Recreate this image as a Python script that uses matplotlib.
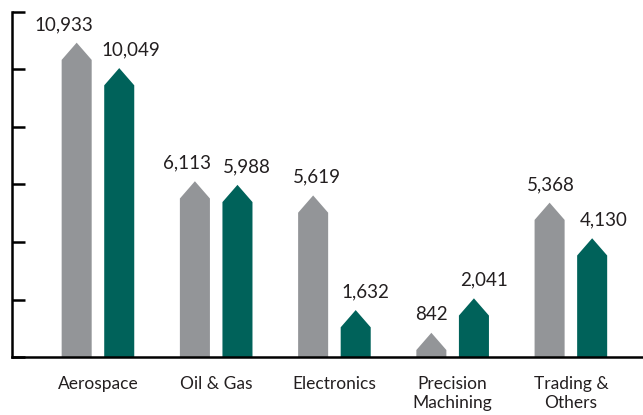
import numpy as np
import matplotlib.pyplot as plt
from matplotlib.patches import Polygon

# Revenue by segment, two periods
categories = ["Aerospace", "Oil & Gas", "Electronics", "Precision\nMachining", "Trading &\nOthers"]
prev_values = [10933, 6113, 5619, 842, 5368]
curr_values = [10049, 5988, 1632, 2041, 4130]

gray = "#939598"
teal = "#00625a"

plt.rcParams["font.family"] = ["Lato", "DejaVu Sans"]

fig = plt.figure(figsize=(6.43, 4.15), dpi=100)
ax = fig.add_axes([12 / 643, 58 / 415, 631 / 643, 345 / 415])

x = np.arange(len(categories))
width = 0.254
offset = 0.18
head = 600  # height of the pointed cap, data units


def arrow_bar(ax, xc, value, color):
    h = min(head, value)
    pts = [(xc - width / 2, 0), (xc - width / 2, value - h), (xc, value),
           (xc + width / 2, value - h), (xc + width / 2, 0)]
    ax.add_patch(Polygon(pts, closed=True, facecolor=color, edgecolor="none"))


# small sideways nudges for the value labels (points)
prev_nudge = [-9, -6, 3, 0, 1]
curr_nudge = [8, 7, 7, 7, 8]

for i in range(len(categories)):
    arrow_bar(ax, x[i] - offset, prev_values[i], gray)
    arrow_bar(ax, x[i] + offset, curr_values[i], teal)
    ax.annotate(f"{prev_values[i]:,}", (x[i] - offset, prev_values[i]),
                xytext=(prev_nudge[i], 7), textcoords="offset points",
                ha="center", va="bottom", fontsize=13.5, color="#231f20")
    ax.annotate(f"{curr_values[i]:,}", (x[i] + offset, curr_values[i]),
                xytext=(curr_nudge[i], 7), textcoords="offset points",
                ha="center", va="bottom", fontsize=13.5, color="#231f20")

ax.set_xlim(-0.727, 4.61)
ax.set_ylim(0, 12000)
ax.set_yticks(np.arange(0, 12001, 2000))
ax.set_yticklabels([])
ax.set_xticks(x)
ax.set_xticklabels(categories, fontsize=12.5, color="#231f20", linespacing=1.2)
ax.tick_params(axis="x", length=0, pad=14)
ax.tick_params(axis="y", direction="in", length=9.5, width=1.8, color="black")

ax.spines["top"].set_visible(False)
ax.spines["right"].set_visible(False)
for s in ("left", "bottom"):
    ax.spines[s].set_linewidth(1.8)
    ax.spines[s].set_color("black")

plt.savefig("out.png", dpi=100)
